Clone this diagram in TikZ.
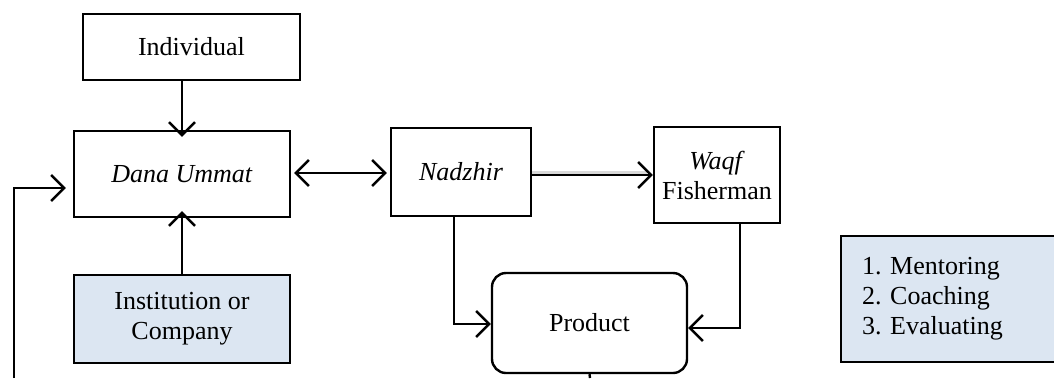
\documentclass[tikz,border=0pt]{standalone}
\usepackage{fontspec}
\setmainfont{Liberation Serif}
\usetikzlibrary{arrows.meta}
\definecolor{boxblue}{HTML}{DCE6F2}
\frenchspacing
\begin{document}
\begin{tikzpicture}[x=1pt,y=-1pt,
  box/.style={draw=black,line width=2.4pt,inner sep=0pt,align=center,font=\fontsize{26}{30}\selectfont},
  tip/.tip={Straight Barb[length=13pt,width=26pt,line width=2.4pt]},
  conn/.style={line width=2.4pt,-tip},
  plain/.style={line width=2.4pt}]
\useasboundingbox (0,0) rectangle (1054,378);
\begin{scope}
\clip (0,0) rectangle (1054,378);
\node[box,minimum width=217pt,minimum height=66pt] (ind) at (191.5,47) {Individual};
\node[box,minimum width=216pt,minimum height=86pt] (dana) at (182,174) {\textit{Dana Ummat}};
\node[box,fill=boxblue,minimum width=216pt,minimum height=88pt] (inst) at (182,319) {Institution or\\Company};
\node[box,minimum width=140pt,minimum height=88pt] (nad) at (461,172) {\textit{Nadzhir}};
\node[box,minimum width=126pt,minimum height=96pt] (waqf) at (717,175) {\textit{Waqf}\\Fisherman};
\node[box,rounded corners=14pt,minimum width=195pt,minimum height=100pt] (prod) at (589.5,323) {Product};
\node[box,fill=boxblue,minimum width=216pt,minimum height=126pt,align=left,text width=174pt] (ment) at (949,299) {1. Mentoring\\2. Coaching\\3. Evaluating};
\coordinate (lb) at (14,378);
\coordinate (pb) at (590,378);
\end{scope}
\draw[conn] (ind.south -| dana.north) -- ([yshift=-7pt]dana.north);
\draw[conn] (inst.north) -- ([yshift=7pt]dana.south);
\draw[line width=2.4pt,tip-tip] ([xshift=3pt]dana.east |- 0,173) -- ([xshift=-3pt]nad.west |- 0,173);
\draw[line width=3pt,black!25,opacity=0.6] ([yshift=3pt]nad.east |- 0,175) -- ([xshift=-6pt,yshift=3pt]waqf.west |- 0,175);
\draw[conn] (nad.east |- 0,175) -- (waqf.west |- 0,175);
\draw[conn] (454,216) |- (prod.west |- 0,324);
\draw[conn] (740,223) |- (prod.east |- 0,328);
\draw[conn] (lb) |- ([xshift=-7pt]dana.west |- 0,188);
\draw[plain] (prod.south) -- (pb);
\end{tikzpicture}
\end{document}
